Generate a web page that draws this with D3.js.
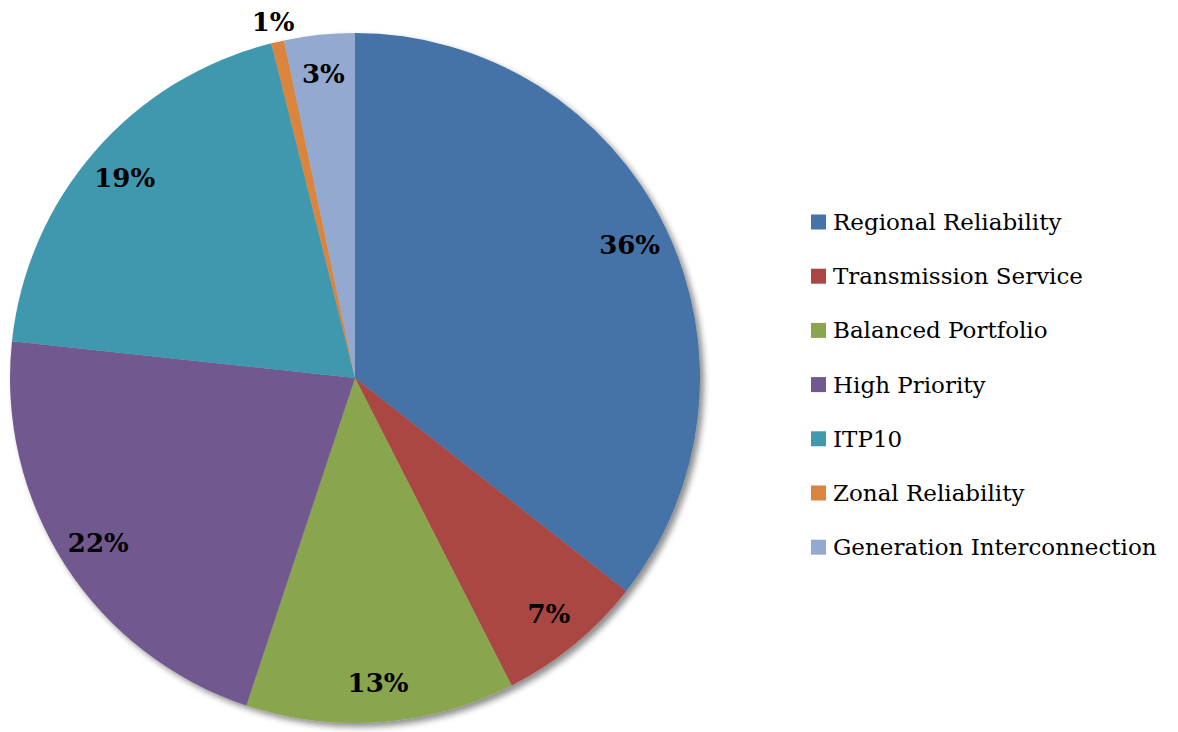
<!DOCTYPE html>
<html>
<head>
<meta charset="utf-8">
<script src="https://cdn.jsdelivr.net/npm/d3@7"></script>
<style>
  body { margin: 0; background: #fff; }
  svg { display: block; }
</style>
</head>
<body>
<script>
var categories = ["Regional Reliability", "Transmission Service", "Balanced Portfolio",
  "High Priority", "ITP10", "Zonal Reliability", "Generation Interconnection"];
var values = [35.6, 6.9, 12.6, 21.6, 19.4, 0.6, 3.3];
var colors = ["#4572A7", "#AA4643", "#89A54E", "#71588F", "#4198AF", "#DB843D", "#93A9CF"];

var width = 1178, height = 732,
  cx = 355, cy = 378,
  radius = 345;

var data = categories.map(function(c, i) { return {name: c, value: values[i]}; });
var total = d3.sum(values);

var color = d3.scaleOrdinal()
  .domain(categories)
  .range(colors);

var pie = d3.pie()
  .sort(null)
  .value(function(d) { return d.value; });

var arc = d3.arc()
  .outerRadius(radius)
  .innerRadius(0);

var labelArc = d3.arc()
  .outerRadius(radius * 0.885)
  .innerRadius(radius * 0.885);

var outerLabelArc = d3.arc()
  .outerRadius(radius + 20)
  .innerRadius(radius + 20);

var svg = d3.select("body").append("svg")
  .attr("width", width)
  .attr("height", height);

var defs = svg.append("defs");
var filter = defs.append("filter")
  .attr("id", "shadow")
  .attr("x", "-10%").attr("y", "-10%")
  .attr("width", "120%").attr("height", "120%");
filter.append("feGaussianBlur")
  .attr("in", "SourceAlpha")
  .attr("stdDeviation", 3);
filter.append("feOffset")
  .attr("dx", 4).attr("dy", 4)
  .attr("result", "blur");
filter.append("feComponentTransfer")
  .append("feFuncA").attr("type", "linear").attr("slope", 0.45);
var merge = filter.append("feMerge");
merge.append("feMergeNode");
merge.append("feMergeNode").attr("in", "SourceGraphic");

var g = svg.append("g")
  .attr("transform", "translate(" + cx + "," + cy + ")");

var slices = g.append("g")
  .attr("filter", "url(#shadow)");

slices.selectAll("path")
  .data(pie(data))
  .enter().append("path")
  .attr("d", arc)
  .style("fill", function(d) { return color(d.data.name); });

g.selectAll(".label")
  .data(pie(data))
  .enter().append("text")
  .attr("class", "label")
  .attr("transform", function(d) {
    var a = d.data.value < 1 ? outerLabelArc : labelArc;
    return "translate(" + a.centroid(d) + ")";
  })
  .attr("dy", ".35em")
  .attr("text-anchor", "middle")
  .style("font-family", "'DejaVu Serif', serif")
  .style("font-weight", "bold")
  .style("font-size", "26px")
  .style("fill", "#000")
  .text(function(d) { return Math.round(d.data.value / total * 100) + "%"; });

// legend
var legend = svg.append("g")
  .attr("transform", "translate(811,222)");

var item = legend.selectAll(".item")
  .data(categories)
  .enter().append("g")
  .attr("class", "item")
  .attr("transform", function(d, i) { return "translate(0," + (i * 54.2) + ")"; });

item.append("rect")
  .attr("x", 0)
  .attr("y", -7.5)
  .attr("width", 15)
  .attr("height", 15)
  .style("fill", function(d) { return color(d); });

item.append("text")
  .attr("x", 22)
  .attr("dy", ".35em")
  .style("font-family", "'DejaVu Serif', serif")
  .style("font-size", "23px")
  .style("fill", "#000")
  .text(function(d) { return d; });
</script>
</body>
</html>
